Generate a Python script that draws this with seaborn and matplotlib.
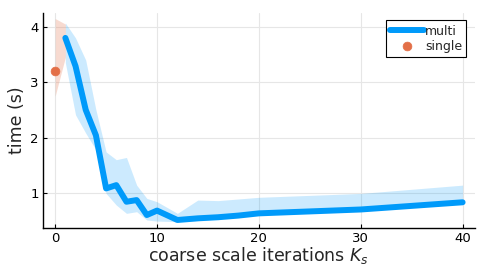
import numpy as np
import pandas as pd
import seaborn as sns
import matplotlib.pyplot as plt

# multi-scale timings
multi_k = [1, 2, 3, 4, 5, 6, 7, 8, 9, 10, 12, 14, 16, 18, 20, 30, 40]
multi_t = [3.80, 3.29, 2.50, 2.04, 1.08, 1.14, 0.84, 0.87, 0.60, 0.68,
           0.51, 0.54, 0.56, 0.59, 0.63, 0.70, 0.83]
multi_lo = [3.35, 2.41, 2.08, 1.78, 0.99, 0.78, 0.63, 0.66, 0.51, 0.49,
            0.48, 0.50, 0.53, 0.56, 0.60, 0.67, 0.80]
multi_hi = [4.07, 3.80, 3.40, 2.50, 1.74, 1.60, 1.64, 1.14, 0.90, 0.84,
            0.63, 0.87, 0.86, 0.89, 0.92, 0.99, 1.14]

# single-scale timing
single_k = [0]
single_t = [3.20]
single_band_k = [0, 1]
single_lo = [2.75, 3.45]
single_hi = [4.15, 4.05]

blue = "#009AFA"
orange = "#E36F47"

sns.set_style("white")
fig = plt.figure(figsize=(4.88, 2.71), dpi=100)
ax = fig.add_axes([0.088, 0.159, 0.885, 0.793])

df = pd.DataFrame({"k": multi_k, "t": multi_t})
sdf = pd.DataFrame({"k": single_k, "t": single_t})

ax.fill_between(single_band_k, single_lo, single_hi, color=orange, alpha=0.25, lw=0)
ax.fill_between(multi_k, multi_lo, multi_hi, color=blue, alpha=0.2, lw=0)
sns.lineplot(data=df, x="k", y="t", ax=ax, color=blue, lw=4.3,
             solid_capstyle="round", label="multi")
sns.scatterplot(data=sdf, x="k", y="t", ax=ax, color=orange, s=40,
                edgecolor=orange, label="single", zorder=5)

ax.set_xlim(-1.2, 41.2)
ax.set_ylim(0.367, 4.25)
ax.set_xticks([0, 10, 20, 30, 40])
ax.set_yticks([1, 2, 3, 4])
ax.grid(True, color="#e6e6e6", lw=0.8)
ax.set_axisbelow(True)
for s in ["top", "right"]:
    ax.spines[s].set_visible(False)
for s in ["left", "bottom"]:
    ax.spines[s].set_color("black")
    ax.spines[s].set_linewidth(1.0)
ax.tick_params(direction="in", length=3, width=0.8, labelsize=9.5, colors="black",
               left=True, bottom=True, pad=3)
ax.set_xlabel("coarse scale iterations $K_s$", fontsize=12.5, labelpad=0)
ax.set_ylabel("time (s)", fontsize=12.5, labelpad=3)

leg = ax.legend(loc="upper right", fontsize=9, frameon=True, fancybox=False,
                edgecolor="black", framealpha=1, borderpad=0.35,
                handlelength=2.7, handletextpad=0.1, borderaxespad=0.5,
                labelspacing=0.15, bbox_to_anchor=(0.995, 0.995))
leg.get_frame().set_linewidth(0.8)

fig.savefig("out.png", dpi=100)
